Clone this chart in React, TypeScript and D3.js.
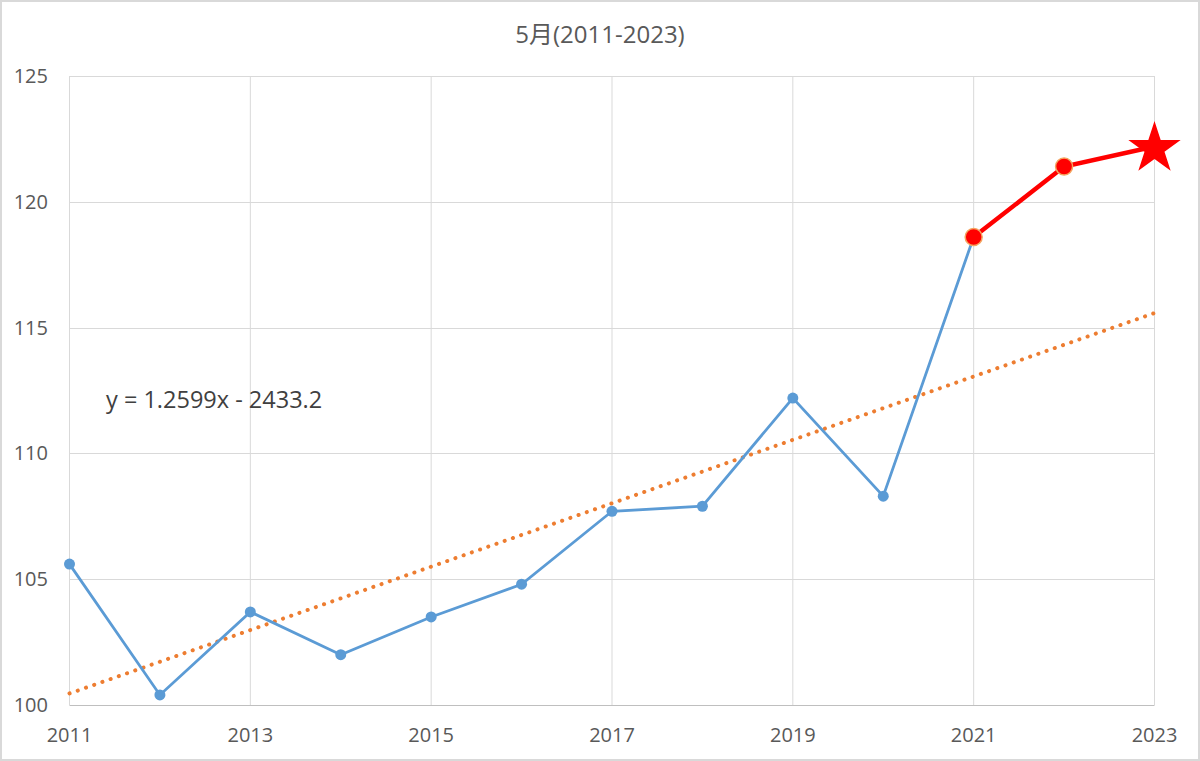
import React, { useRef, useEffect } from 'react';
import * as d3 from 'd3';

const years = [2011, 2012, 2013, 2014, 2015, 2016, 2017, 2018, 2019, 2020, 2021, 2022, 2023];
const values = [105.6, 100.4, 103.7, 102.0, 103.5, 104.8, 107.7, 107.9, 112.2, 108.3, 118.6, 121.4, 122.2];
const blueYears = years.slice(0, 11);
const redYears = [2021, 2022, 2023];
const yTicks = [100, 105, 110, 115, 120, 125];
const xTicks = [2011, 2013, 2015, 2017, 2019, 2021, 2023];
const slope = 1.2599;
const intercept = -2433.2;
const title = '5月(2011-2023)';
const equation = 'y = 1.2599x - 2433.2';

const W = 1200;
const H = 761;
const FONT = '"Open Sans", "Noto Sans CJK JP", sans-serif';

const App: React.FC = () => {
  const svgRef = useRef<SVGSVGElement | null>(null);

  useEffect(() => {
    const svg = d3.select(svgRef.current);
    svg.selectAll('*').remove();

    svg.append('rect')
      .attr('x', 1).attr('y', 1)
      .attr('width', W - 2).attr('height', H - 2)
      .attr('fill', '#fff')
      .attr('stroke', '#d9d9d9')
      .attr('stroke-width', 2);

    const x = d3.scaleLinear().domain([2011, 2023]).range([69.5, 1154.5]);
    const y = d3.scaleLinear().domain([100, 125]).range([705, 76]);
    const val = (yr: number) => values[years.indexOf(yr)];

    // grid
    svg.append('g').selectAll('line')
      .data(yTicks.slice(1))
      .enter().append('line')
      .attr('x1', x(2011)).attr('x2', x(2023))
      .attr('y1', d => Math.round(y(d)) + 0.5).attr('y2', d => Math.round(y(d)) + 0.5)
      .attr('stroke', '#d9d9d9').attr('stroke-width', 1);

    svg.append('g').selectAll('line')
      .data(xTicks)
      .enter().append('line')
      .attr('x1', d => x(d)).attr('x2', d => x(d))
      .attr('y1', y(125)).attr('y2', y(100))
      .attr('stroke', '#d9d9d9').attr('stroke-width', 1);

    // x axis line
    svg.append('line')
      .attr('x1', x(2011)).attr('x2', x(2023))
      .attr('y1', y(100) + 0.5).attr('y2', y(100) + 0.5)
      .attr('stroke', '#bfbfbf').attr('stroke-width', 1.2);

    // labels
    svg.append('g').selectAll('text')
      .data(yTicks)
      .enter().append('text')
      .attr('x', 48).attr('y', d => y(d) + 7)
      .attr('text-anchor', 'end')
      .attr('font-family', FONT).attr('font-size', 20)
      .attr('fill', '#595959')
      .text(d => d);

    svg.append('g').selectAll('text')
      .data(xTicks)
      .enter().append('text')
      .attr('x', d => x(d)).attr('y', 742)
      .attr('text-anchor', 'middle')
      .attr('font-family', FONT).attr('font-size', 20)
      .attr('fill', '#595959')
      .text(d => d);

    svg.append('text')
      .attr('x', 600).attr('y', 43)
      .attr('text-anchor', 'middle')
      .attr('font-family', FONT).attr('font-size', 24)
      .attr('fill', '#595959')
      .text(title);

    // trend line
    svg.append('line')
      .attr('x1', x(2011)).attr('y1', y(slope * 2011 + intercept))
      .attr('x2', x(2023)).attr('y2', y(slope * 2023 + intercept))
      .attr('stroke', '#ED7D31').attr('stroke-width', 4)
      .attr('stroke-dasharray', '0.1 8.6')
      .attr('stroke-linecap', 'round');

    svg.append('text')
      .attr('x', 106).attr('y', 408)
      .attr('font-family', FONT).attr('font-size', 23.5)
      .attr('fill', '#404040')
      .text(equation);

    const line = d3.line<number>().x(d => x(d)).y(d => y(val(d)));

    svg.append('path')
      .attr('d', line(blueYears))
      .attr('fill', 'none')
      .attr('stroke', '#5B9BD5').attr('stroke-width', 2.8);

    svg.append('g').selectAll('circle')
      .data(blueYears.slice(0, 10))
      .enter().append('circle')
      .attr('cx', d => x(d)).attr('cy', d => y(val(d)))
      .attr('r', 5.5)
      .attr('fill', '#5B9BD5');

    svg.append('path')
      .attr('d', line(redYears))
      .attr('fill', 'none')
      .attr('stroke', '#FF0000').attr('stroke-width', 4.5);

    svg.append('g').selectAll('circle')
      .data(redYears.slice(0, 2))
      .enter().append('circle')
      .attr('cx', d => x(d)).attr('cy', d => y(val(d)))
      .attr('r', 8.5)
      .attr('fill', '#FF0000')
      .attr('stroke', '#F4A460').attr('stroke-width', 1.5);

    const star = d3.symbol().type(d3.symbolStar).size(850);
    svg.append('path')
      .attr('d', star())
      .attr('transform', `translate(${x(2023)},${y(val(2023)) + 2})`)
      .attr('fill', '#FF0000');
  }, []);

  return (
    <svg
      ref={svgRef}
      width={W}
      height={H}
      style={{ position: 'absolute', left: 0, top: 0, display: 'block' }}
    />
  );
};

export default App;
